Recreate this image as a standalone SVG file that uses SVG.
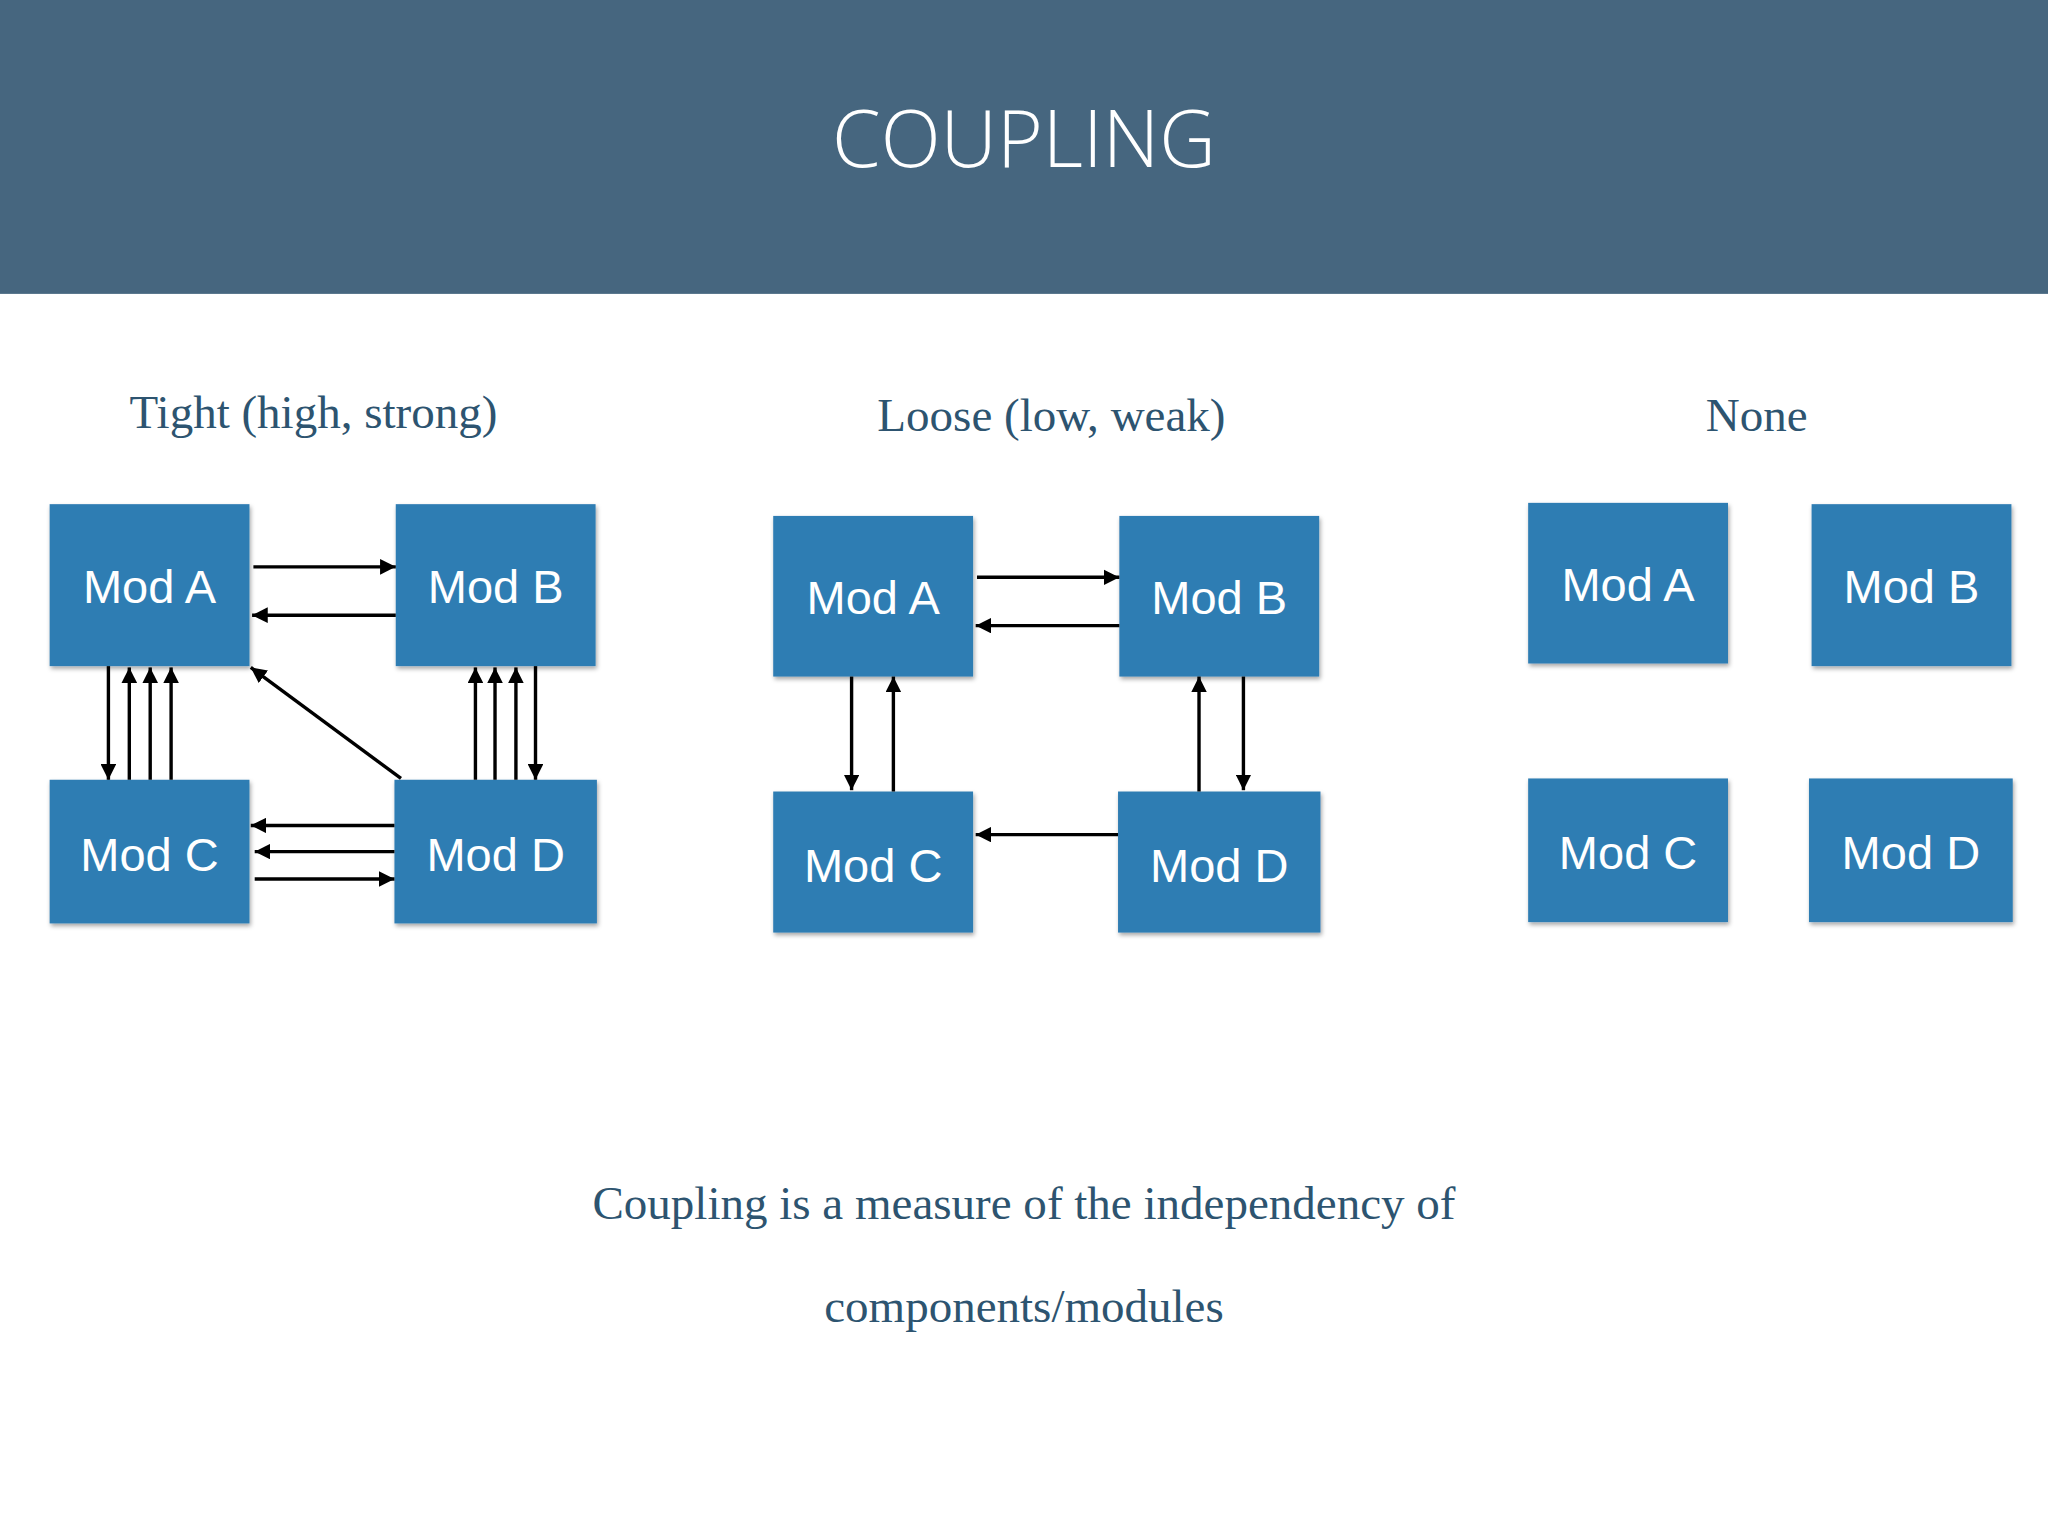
<svg xmlns="http://www.w3.org/2000/svg" width="2048" height="1536" viewBox="0 0 2048 1536">
<style>
.box{fill:#2f7db3}
.bt{fill:#fff;font-family:"Liberation Sans",Arial,sans-serif;font-size:36px;text-anchor:middle;font-weight:300}
.lbl{fill:#2d5470;font-family:"Liberation Serif","DejaVu Serif",serif;font-size:36px;text-anchor:middle}
.ar{stroke:#000;stroke-width:2.6;fill:none;marker-end:url(#ah)}
</style>
<defs>
<marker id="ah" markerUnits="userSpaceOnUse" markerWidth="12" markerHeight="12" viewBox="0 0 12 12" refX="12" refY="6" orient="auto"><path d="M0,0 L12,6 L0,12 Z" fill="#000"/></marker>
<filter id="sh" x="-10%" y="-10%" width="130%" height="130%"><feDropShadow dx="1" dy="2" stdDeviation="1.5" flood-opacity="0.35"/></filter>
</defs>
<rect width="2048" height="1536" fill="#fff"/>
<g transform="scale(1.30612)">
<rect x="0" y="0" width="1568" height="225" fill="#46667f"/>
<text x="784" y="128" fill="#fff" font-family="'Open Sans','Lato',sans-serif" font-weight="300" font-size="60" text-anchor="middle">COUPLING</text>
<text class="lbl" x="240" y="328">Tight (high, strong)</text>
<text class="lbl" x="805" y="330">Loose (low, weak)</text>
<text class="lbl" x="1345" y="330">None</text>
<g id="tA"><rect class="box" filter="url(#sh)" x="38" y="386" width="153" height="124"/><text class="bt" x="114.5" y="462">Mod A</text></g>
<g id="tB"><rect class="box" filter="url(#sh)" x="303" y="386" width="153" height="124"/><text class="bt" x="379.5" y="462">Mod B</text></g>
<g id="tC"><rect class="box" filter="url(#sh)" x="38" y="597" width="153" height="110"/><text class="bt" x="114.5" y="667">Mod C</text></g>
<g id="tD"><rect class="box" filter="url(#sh)" x="302" y="597" width="155" height="110"/><text class="bt" x="379.5" y="667">Mod D</text></g>
<g id="lA"><rect class="box" filter="url(#sh)" x="592" y="395" width="153" height="123"/><text class="bt" x="668.5" y="470">Mod A</text></g>
<g id="lB"><rect class="box" filter="url(#sh)" x="857" y="395" width="153" height="123"/><text class="bt" x="933.5" y="470">Mod B</text></g>
<g id="lC"><rect class="box" filter="url(#sh)" x="592" y="606" width="153" height="108"/><text class="bt" x="668.5" y="675">Mod C</text></g>
<g id="lD"><rect class="box" filter="url(#sh)" x="856" y="606" width="155" height="108"/><text class="bt" x="933.5" y="675">Mod D</text></g>
<g id="nA"><rect class="box" filter="url(#sh)" x="1170" y="385" width="153" height="123"/><text class="bt" x="1246.5" y="460">Mod A</text></g>
<g id="nB"><rect class="box" filter="url(#sh)" x="1387" y="386" width="153" height="124"/><text class="bt" x="1463.5" y="462">Mod B</text></g>
<g id="nC"><rect class="box" filter="url(#sh)" x="1170" y="596" width="153" height="110"/><text class="bt" x="1246.5" y="665">Mod C</text></g>
<g id="nD"><rect class="box" filter="url(#sh)" x="1385" y="596" width="156" height="110"/><text class="bt" x="1463" y="665">Mod D</text></g>
<g id="connectors">
<line class="ar" x1="194" y1="434" x2="303" y2="434"/>
<line class="ar" x1="303" y1="471" x2="193" y2="471"/>
<line class="ar" x1="83" y1="510" x2="83" y2="597"/>
<line class="ar" x1="99" y1="597" x2="99" y2="511"/>
<line class="ar" x1="115" y1="597" x2="115" y2="511"/>
<line class="ar" x1="131" y1="597" x2="131" y2="511"/>
<line class="ar" x1="364" y1="597" x2="364" y2="511"/>
<line class="ar" x1="379" y1="597" x2="379" y2="511"/>
<line class="ar" x1="395" y1="597" x2="395" y2="511"/>
<line class="ar" x1="410" y1="510" x2="410" y2="597"/>
<line class="ar" x1="307" y1="596" x2="192" y2="511"/>
<line class="ar" x1="302" y1="632" x2="192" y2="632"/>
<line class="ar" x1="302" y1="652" x2="195" y2="652"/>
<line class="ar" x1="195" y1="673" x2="302" y2="673"/>
<line class="ar" x1="748" y1="442" x2="857" y2="442"/>
<line class="ar" x1="857" y1="479" x2="747" y2="479"/>
<line class="ar" x1="652" y1="518" x2="652" y2="605"/>
<line class="ar" x1="684" y1="606" x2="684" y2="518"/>
<line class="ar" x1="918" y1="606" x2="918" y2="518"/>
<line class="ar" x1="952" y1="518" x2="952" y2="605"/>
<line class="ar" x1="856" y1="639" x2="747" y2="639"/>
</g>
<text class="lbl" x="784" y="933" font-size="54">Coupling is a measure of the independency of</text>
<text class="lbl" x="784" y="1012" font-size="54">components/modules</text>
</g>
</svg>
